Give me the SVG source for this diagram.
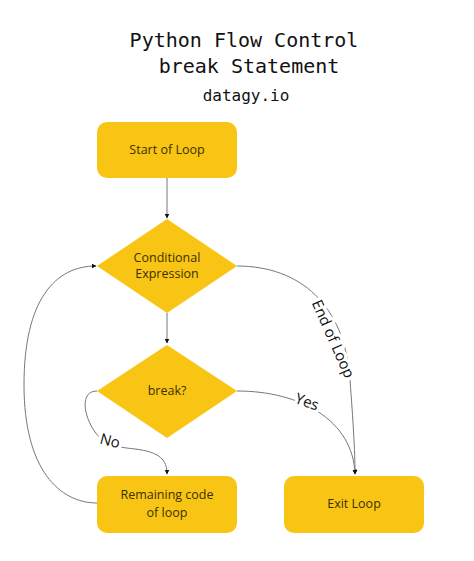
<svg xmlns="http://www.w3.org/2000/svg" width="474" height="561" viewBox="0 0 474 561">
<style>
.title{font-family:"DejaVu Sans Mono","Liberation Mono",monospace;fill:#111;text-anchor:middle}
.node{fill:#F9C514;stroke:none}
.nt{font-family:"Open Sans","Noto Sans",sans-serif;font-size:12.5px;fill:#3a3000;text-anchor:middle}
.conn{fill:none;stroke:#777;stroke-width:1}
.lbl{font-family:"Open Sans","Noto Sans",sans-serif;font-size:15px;fill:#111;text-anchor:middle;stroke:#fff;stroke-width:7;paint-order:stroke;stroke-linejoin:round}
</style>
<defs>
<marker id="ah" viewBox="0 0 10 10" refX="9" refY="5" markerWidth="5" markerHeight="5" orient="auto" markerUnits="userSpaceOnUse">
<path d="M0,0 L10,5 L0,10 z" fill="#111"/>
</marker>
</defs>
<rect width="474" height="561" fill="#fff"/>
<g id="title">
<text class="title" x="244" y="47" font-size="20">Python Flow Control</text>
<text class="title" x="249" y="73" font-size="20">break Statement</text>
<text class="title" x="246" y="101" font-size="16">datagy.io</text>
</g>
<g id="connectors">
<path class="conn" d="M167,178 L167,218" marker-end="url(#ah)"/>
<path class="conn" d="M167,313 L167,343" marker-end="url(#ah)"/>
<path class="conn" d="M97,503 C60,503 24,470 24,385 C24,300 55,266 96,266" marker-end="url(#ah)"/>
<path class="conn" d="M97,391 C80,391 83,415 95,432 C105,446 118,447 135,449 C160,452 167,460 167,474" marker-end="url(#ah)"/>
<path class="conn" d="M237,391 C300,391 353,420 355,474" marker-end="url(#ah)"/>
<path class="conn" d="M237,266 C300,266 345,305 350,380 C353,420 355,450 355,474" marker-end="url(#ah)"/>
<text class="lbl" transform="translate(333,339) rotate(66)" y="5">End of Loop</text>
<text class="lbl" transform="translate(307,402) rotate(20)" y="5">Yes</text>
<text class="lbl" transform="translate(110,441) rotate(15)" y="5">No</text>
</g>
<g id="start">
<rect class="node" x="97" y="122" width="140" height="56" rx="10"/>
<text class="nt" x="167" y="154">Start of Loop</text>
</g>
<g id="cond">
<polygon class="node" points="167,219 237,266 167,313 97,266"/>
<text class="nt" x="167" y="262">Conditional</text>
<text class="nt" x="167" y="278">Expression</text>
</g>
<g id="brk">
<polygon class="node" points="167,345 237,391 167,438 97,391"/>
<text class="nt" x="167" y="395">break?</text>
</g>
<g id="remaining">
<rect class="node" x="97" y="476" width="140" height="57" rx="10"/>
<text class="nt" x="167" y="499">Remaining code</text>
<text class="nt" x="167" y="517">of loop</text>
</g>
<g id="exit">
<rect class="node" x="284" y="476" width="140" height="57" rx="10"/>
<text class="nt" x="354" y="508">Exit Loop</text>
</g>
</svg>
